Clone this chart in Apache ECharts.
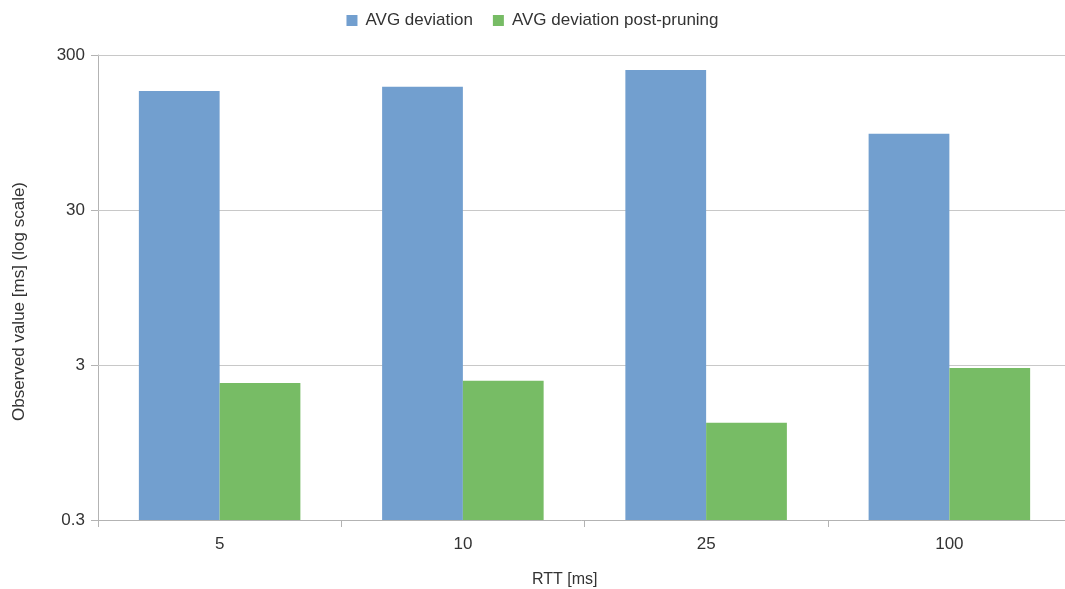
<!DOCTYPE html>
<html>
<head>
<meta charset="utf-8">
<script src="https://cdn.jsdelivr.net/npm/echarts@6/dist/echarts.min.js"></script>
<style>
  html, body { margin: 0; padding: 0; background: #fff; }
  #chart { width: 1065px; height: 589px; }
</style>
</head>
<body>
<div id="chart"></div>
<script>
// RTT settings on the x axis
const categories = ['5', '10', '25', '100'];
// Average deviation before and after pruning, in ms
const avgDeviation = [176, 187, 240, 93];
const avgDeviationPostPruning = [2.3, 2.37, 1.27, 2.87];
// Log-scale tick values shown on the y axis
const yTicks = [0.3, 3, 30, 300];

const FONT = '"Liberation Sans", Arial, sans-serif';
const TEXT = '#333';
const AXIS_MIN = yTicks[0];
const AXIS_MAX = yTicks[yTicks.length - 1];
const BAR_FRACTION = 0.332; // share of the category band taken by one bar

// Bars grow from the bottom of the log axis; slot 0 sits left of the
// category centre, slot 1 right of it.
function barRenderer(slot) {
  return function (params, api) {
    const cat = api.value(0);
    const val = api.value(1);
    const band = api.size([1, AXIS_MIN])[0];
    const w = band * BAR_FRACTION;
    const top = api.coord([cat, val]);
    const base = api.coord([cat, AXIS_MIN]);
    return {
      type: 'rect',
      shape: { x: top[0] - w + slot * w, y: top[1], width: w, height: base[1] - top[1] },
      style: api.style()
    };
  };
}

const toPairs = arr => arr.map((v, i) => [i, v]);

const chart = echarts.init(document.getElementById('chart'), null, { renderer: 'canvas' });
chart.setOption({
  animation: false,
  textStyle: { fontFamily: FONT },
  legend: {
    top: 7,
    left: 'center',
    itemWidth: 11,
    itemHeight: 11,
    itemGap: 20,
    icon: 'rect',
    textStyle: { fontFamily: FONT, fontSize: 17, color: TEXT, padding: [0, 0, 0, 3] },
    data: ['AVG deviation', 'AVG deviation post-pruning']
  },
  grid: {
    left: 98, width: 973, top: 55, bottom: 69,
    containLabel: false,
    outerBoundsMode: 'none'
  },
  xAxis: {
    type: 'category',
    data: categories,
    axisLine: { lineStyle: { color: '#b3b3b3' } },
    axisTick: { show: true, length: 7, lineStyle: { color: '#b3b3b3' } },
    axisLabel: { fontFamily: FONT, fontSize: 17, color: TEXT, margin: 16 }
  },
  yAxis: {
    type: 'log',
    logBase: 10,
    min: AXIS_MIN,
    max: AXIS_MAX,
    name: 'Observed value [ms] (log scale)',
    nameLocation: 'middle',
    nameGap: 70,
    nameTextStyle: { fontFamily: FONT, fontSize: 17, color: TEXT, padding: [0, 0, 0, -28] },
    axisLine: { show: true, lineStyle: { color: '#b3b3b3' } },
    axisTick: { show: true, length: 7, customValues: yTicks, lineStyle: { color: '#b3b3b3' } },
    splitLine: { show: false },
    minorTick: { show: false },
    axisLabel: {
      customValues: yTicks,
      fontFamily: FONT, fontSize: 17, color: TEXT, margin: 13,
      formatter: v => String(parseFloat(Number(v).toPrecision(3)))
    }
  },
  graphic: [{
    type: 'text',
    left: 532,
    top: 572,
    style: { text: 'RTT [ms]', font: '16px ' + FONT, fill: TEXT }
  }],
  series: [
    {
      name: 'AVG deviation',
      type: 'custom',
      renderItem: barRenderer(0),
      encode: { x: 0, y: 1 },
      data: toPairs(avgDeviation),
      itemStyle: { color: '#729fcf' },
      z: 3,
      // horizontal grid lines at the labelled log ticks
      markLine: {
        silent: true,
        symbol: 'none',
        label: { show: false },
        lineStyle: { color: '#c8c8c8', type: 'solid', width: 1 },
        z: 1,
        data: yTicks.slice(1).map(t => ({ yAxis: t }))
      }
    },
    {
      name: 'AVG deviation post-pruning',
      type: 'custom',
      renderItem: barRenderer(1),
      encode: { x: 0, y: 1 },
      data: toPairs(avgDeviationPostPruning),
      itemStyle: { color: '#77bc65' },
      z: 3
    }
  ]
});
</script>
</body>
</html>
